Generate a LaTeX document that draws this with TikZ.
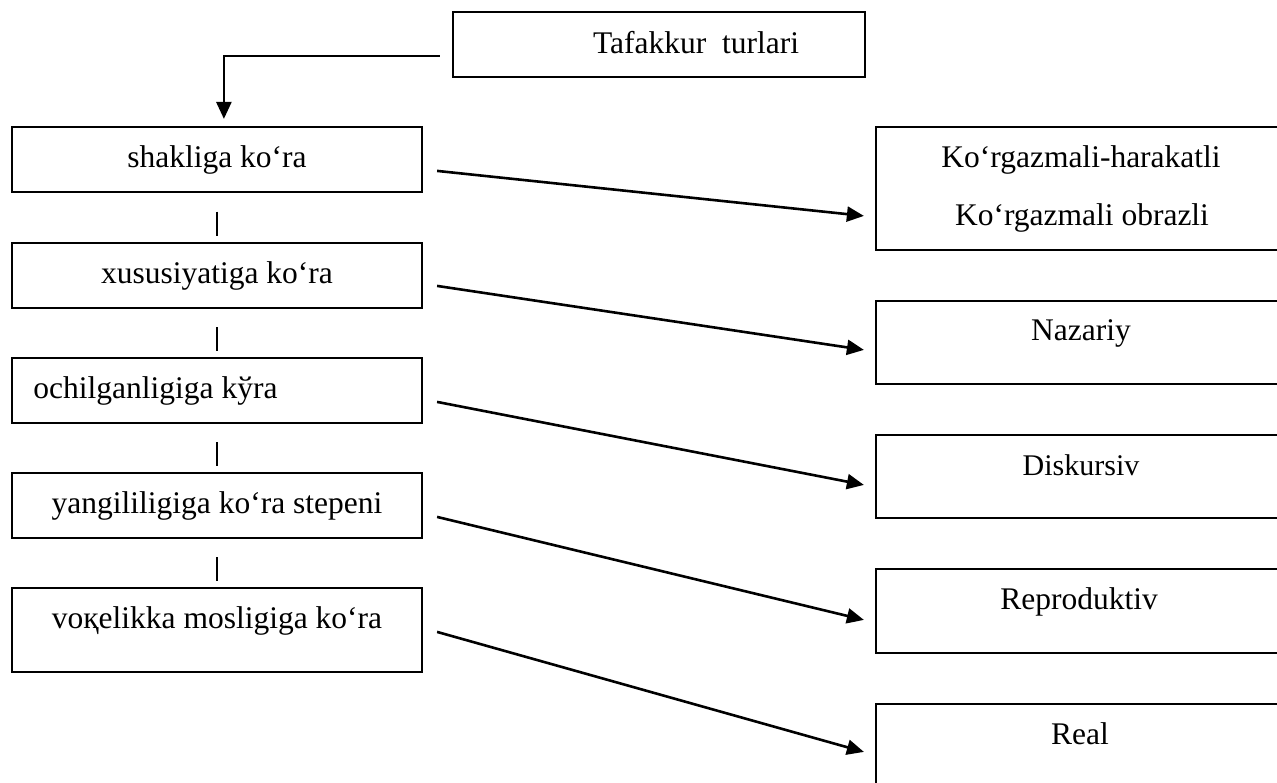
\documentclass[tikz,border=0pt]{standalone}
\usepackage{fontspec}
\setmainfont{Liberation Serif}
\usetikzlibrary{arrows.meta,fit,calc}
\begin{document}
\begin{tikzpicture}[x=0.5pt,y=-0.5pt,
  box/.style={draw, line width=1.1pt, inner sep=0pt, fit={#1}},
  lbl/.style={inner sep=0pt, anchor=base, font=\fontsize{15.75}{19}\selectfont},
  conn/.style={line width=1.3pt, -{Triangle[length=8.5pt,width=7.5pt]}},
  bar/.style={line width=1pt}]
\useasboundingbox (0,0) rectangle (1277,782);
\clip (0,0) rectangle (1277,782);
% top box
\node[box={(453,12)(865,77)}] (T) {};
\node[lbl] (Tt) at (696,53) {Tafakkur\ \ turlari};
% left boxes
\node[box={(12,127)(422,192)}] (L1) {};
\node[box={(12,243)(422,308)}] (L2) {};
\node[box={(12,358)(422,423)}] (L3) {};
\node[box={(12,473)(422,538)}] (L4) {};
\node[box={(12,588)(422,672)}] (L5) {};
\node[lbl] (L1t) at (217,167) {shakliga ko‘ra};
\node[lbl] (L2t) at (217,283) {xususiyatiga ko‘ra};
\node[lbl, anchor=base west] (L3t) at (33,398) {ochilganligiga kўra};
\node[lbl] (L4t) at (217,513) {yangililigiga ko‘ra stepeni};
\node[lbl] (L5t) at (217,628) {voқelikka mosligiga ko‘ra};
% right boxes
\node[box={(876,127)(1300,250)}] (R1) {};
\node[box={(876,301)(1300,384)}] (R2) {};
\node[box={(876,435)(1300,518)}] (R3) {};
\node[box={(876,569)(1300,653)}] (R4) {};
\node[box={(876,704)(1300,820)}] (R5) {};
\node[lbl] (R1a) at (1081,167) {Ko‘rgazmali-harakatli};
\node[lbl] (R1b) at (1082,225) {Ko‘rgazmali obrazli};
\node[lbl] (R2t) at (1081,340) {Nazariy};
\node[lbl, font=\fontsize{15}{18}\selectfont] (R3t) at (1081,475) {Diskursiv};
\node[lbl] (R4t) at (1079,609) {Reproduktiv};
\node[lbl] (R5t) at (1080,744) {Real};
% top connector
\draw[conn] ($(T.north west)+(-12,45)$) -| ($(L1.north west)+(213,-7)$);
% bars between left boxes
\foreach \a/\b in {L1/L2,L2/L3,L3/L4,L4/L5}{
  \draw[bar] ($(\a.south)!0.38!(\b.north)$) -- ($(\a.south)!0.88!(\b.north)$);
}
% arrows
\draw[conn] ($(L1.north east)+(14,45)$) -- ($(R1.north west)+(-11,90)$);
\draw[conn] ($(L2.north east)+(14,44)$) -- ($(R2.north west)+(-11,50)$);
\draw[conn] ($(L3.north east)+(14,45)$) -- ($(R3.north west)+(-11,51)$);
\draw[conn] ($(L4.north east)+(14,45)$) -- ($(R4.north west)+(-11,52)$);
\draw[conn] ($(L5.north east)+(14,45)$) -- ($(R5.north west)+(-11,49)$);
\end{tikzpicture}
\end{document}
